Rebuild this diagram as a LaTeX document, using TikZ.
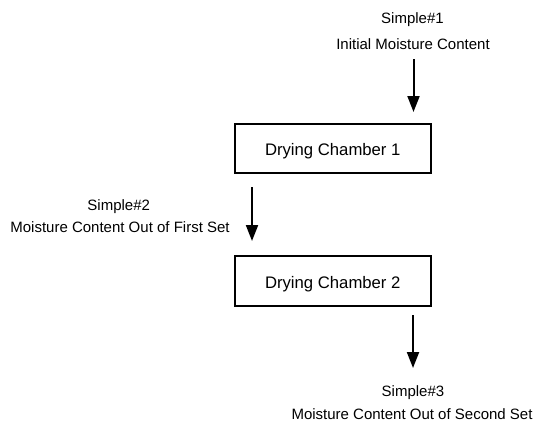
\documentclass[tikz,border=0pt]{standalone}
\usepackage{fontspec}
\setmainfont{Liberation Sans}
\usepackage{tikz}
\usetikzlibrary{arrows.meta,positioning}

\begin{document}
\begin{tikzpicture}[
    x=1pt,y=-1pt,
    every node/.style={font=\fontsize{15}{18}\selectfont,inner sep=0pt},
    chamber/.style={rectangle,draw=black,line width=2pt,
                    minimum width=196.5pt,minimum height=49pt,
                    text height=14pt,text depth=0pt,
                    font=\fontsize{16.7}{20}\selectfont},
    lbl/.style    ={anchor=base},
    arr/.style    ={-{Triangle[length=16pt,width=12pt]},line width=2pt},
  ]
  \useasboundingbox (0,0) rectangle (534,428);

  % Drying chambers
  \node[chamber] (DC1) at (332.75,148) {Drying Chamber 1};
  \node[chamber,minimum height=50pt] (DC2) at (332.75,281) {Drying Chamber 2};

  % Sample labels
  \node[lbl] (S1) at (412.5,24)  {Simple\#1};
  \node[lbl] (M1) at (413,49)    {Initial Moisture Content};
  \node[lbl] (S2) at (118.7,210) {Simple\#2};
  \node[lbl] (M2) at (120,232)   {Moisture Content Out of First Set};
  \node[lbl] (S3) at (413,396)   {Simple\#3};
  \node[lbl] (M3) at (412,419)   {Moisture Content Out of Second Set};

  % Arrow end points
  \coordinate (A1) at (413.5,59);
  \coordinate (B1) at (413.5,112);
  \coordinate (A2) at (252,187);
  \coordinate (B2) at (252,241);
  \coordinate (A3) at (413,315);
  \coordinate (B3) at (413,368);

  % Flow arrows
  \draw[arr] (A1) -- (B1);
  \draw[arr] (A2) -- (B2);
  \draw[arr] (A3) -- (B3);
\end{tikzpicture}
\end{document}
